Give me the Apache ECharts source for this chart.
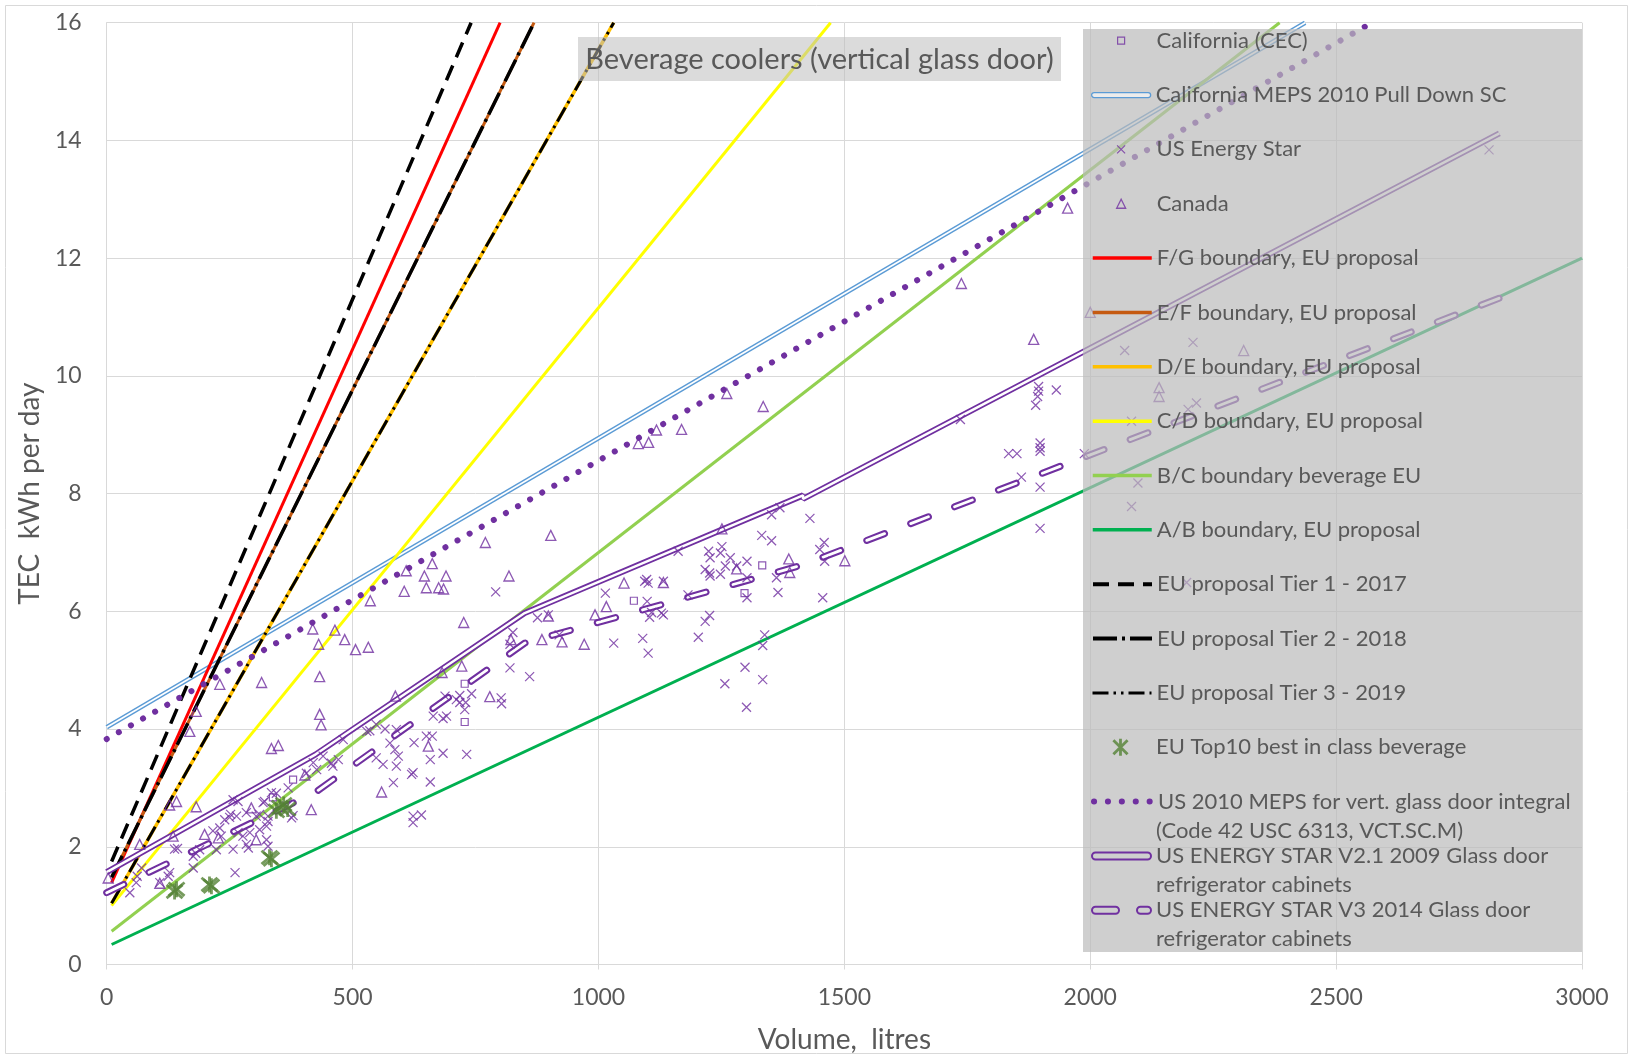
<!DOCTYPE html>
<html><head><meta charset="utf-8">
<script src="https://cdn.jsdelivr.net/npm/echarts@6/dist/echarts.min.js"></script>
<style>html,body{margin:0;padding:0;background:#fff}#c{width:1633px;height:1059px}</style>
</head><body><div id="c"></div>
<script>
// ---------- axes ----------
const X_AXIS = { min: 0, max: 3000, interval: 500, name: 'Volume,  litres' };
const Y_AXIS = { min: 0, max: 16, interval: 2, name: 'TEC  kWh per day' };
const TITLE = 'Beverage coolers (vertical glass door)';

// ---------- series names ----------
const N_CEC = 'California (CEC)';
const N_CAMEPS = 'California MEPS 2010 Pull Down SC';
const N_ES = 'US Energy Star';
const N_CAN = 'Canada';
const N_FG = 'F/G boundary, EU proposal';
const N_EF = 'E/F boundary, EU proposal';
const N_DE = 'D/E boundary, EU proposal';
const N_CD = 'C/D boundary, EU proposal';
const N_BC = 'B/C boundary beverage EU';
const N_AB = 'A/B boundary, EU proposal';
const N_T1 = 'EU proposal Tier 1 - 2017';
const N_T2 = 'EU proposal Tier 2 - 2018';
const N_T3 = 'EU proposal Tier 3 - 2019';
const N_TOP10 = 'EU Top10 best in class beverage';
const N_USMEPS = 'US 2010 MEPS for vert. glass door integral\n(Code 42 USC 6313, VCT.SC.M)';
const N_V21 = 'US ENERGY STAR V2.1 2009 Glass door\nrefrigerator cabinets';
const N_V3 = 'US ENERGY STAR V3 2014 Glass door\nrefrigerator cabinets';

// ---------- scatter data [litres, kWh/day] ----------
const californiaCEC = [[338,2.84],[379,3.14],[728,4.12],[728,4.77],[1072,6.18],[1297,6.31],[1333,6.78]];

const usEnergyStar = [
[47,1.22],[60,1.39],[62,1.50],[71,1.64],[108,1.39],[125,1.50],[128,1.56],[138,1.96],[144,1.97],[176,1.64],
[176,1.84],[181,1.89],[189,1.95],[216,2.27],[223,1.95],[230,2.32],[233,2.18],[240,2.46],[250,2.50],[252,2.55],
[257,1.96],[257,2.80],[261,1.56],[264,2.52],[267,2.24],[267,2.77],[277,2.18],[284,2.04],[284,2.58],[288,1.98],
[291,2.24],[304,2.52],[311,2.29],[311,2.55],[318,2.75],[321,2.77],[325,2.35],[325,2.12],[328,2.52],[328,2.01],
[328,2.43],[335,2.92],[345,2.91],[366,2.69],[369,3.00],[376,2.49],[379,2.53],[406,3.25],[420,3.43],[427,3.31],
[440,3.54],[457,3.42],[460,3.37],[471,3.48],[481,3.82],[529,3.96],[535,3.97],[548,4.08],[548,3.51],[562,3.40],
[566,4.00],[576,3.76],[583,3.09],[586,3.65],[589,3.99],[589,3.37],[593,3.54],[620,3.23],[623,3.26],[623,2.52],
[623,2.41],[625,3.77],[640,2.54],[650,3.88],[658,3.48],[658,3.10],[662,3.88],[664,4.22],[684,3.59],[684,4.18],
[688,4.56],[691,4.22],[711,4.50],[718,4.45],[718,4.57],[728,4.33],[730,4.45],[732,3.57],[742,4.60],[791,6.33],
[802,4.53],[803,4.43],[820,5.44],[820,5.04],[826,5.64],[860,4.89],[876,5.89],[898,5.94],[920,5.60],[1014,6.31],
[1031,5.46],[1090,5.54],[1094,6.51],[1098,6.54],[1099,6.17],[1101,6.48],[1101,5.29],[1104,5.90],[1108,5.98],[1128,5.97],
[1132,6.51],[1132,5.94],[1162,7.02],[1182,6.28],[1203,5.56],[1217,5.83],[1217,6.71],[1224,7.02],[1226,5.93],[1226,6.65],
[1227,6.91],[1227,6.60],[1248,6.99],[1248,6.63],[1251,7.10],[1257,4.77],[1258,6.77],[1268,6.91],[1281,6.77],[1298,5.05],
[1301,4.37],[1302,6.85],[1302,6.57],[1302,6.23],[1332,7.29],[1334,5.42],[1334,4.84],[1338,5.60],[1352,7.20],[1352,7.64],
[1362,6.57],[1365,6.32],[1369,7.76],[1430,7.58],[1450,7.05],[1456,6.23],[1459,7.17],[1460,6.85],[1736,9.26],[1834,8.68],
[1851,8.68],[1860,8.28],[1895,9.82],[1895,9.74],[1893,9.65],[1889,9.50],[1898,8.86],[1898,8.78],[1898,8.72],[1898,8.11],
[1898,7.41],[1931,9.76],[1988,8.68],[2070,10.43],[2084,9.23],[2084,7.78],[2097,8.18],[2196,6.49],[2199,9.43],[2209,10.57],
[2216,9.54],[2811,13.84]
];

const canada = [
[3,1.47],[67,2.04],[108,1.38],[128,2.71],[142,2.77],[135,2.18],[169,3.96],[182,4.30],[182,2.68],[199,2.21],
[227,2.15],[230,4.76],[294,2.66],[304,2.12],[315,4.79],[335,3.67],[349,3.72],[403,3.22],[416,2.63],[419,5.70],
[431,5.44],[433,4.25],[433,4.89],[436,4.07],[464,5.68],[484,5.52],[506,5.35],[532,5.39],[536,6.18],[559,2.93],
[587,4.56],[605,6.34],[609,6.69],[646,6.60],[650,6.40],[654,3.71],[662,6.81],[675,6.40],[685,6.38],[690,6.60],
[682,4.96],[722,5.07],[726,5.81],[770,7.17],[779,4.55],[818,6.60],[822,5.52],[885,5.52],[898,5.92],[903,7.29],
[926,5.48],[971,5.44],[993,5.94],[1016,6.08],[1052,6.48],[1081,8.85],[1102,8.87],[1118,9.08],[1132,6.49],[1169,9.09],
[1251,7.40],[1261,9.70],[1281,6.72],[1335,9.48],[1387,6.89],[1389,6.66],[1501,6.86],[1738,11.57],[1885,10.62],[1954,12.85],
[2000,11.08],[2140,9.80],[2140,9.65],[2312,10.43]
];

const euTop10 = [[138,1.24],[142,1.28],[209,1.36],[213,1.33],[331,1.82],[335,1.79],[345,2.61],[352,2.67],[360,2.72],[368,2.64]];

// ---------- line data [litres, kWh/day] ----------
const caMeps2010 = [[0,4.03],[2437,16.0]];
const fgBoundary = [[10,1.39],[800,16.0]];
const efBoundary = [[10,1.48],[869,16.0]];
const deBoundary = [[10,1.04],[1031,16.0]];
const cdBoundary = [[10,1.00],[1472,16.0]];
const bcBoundary = [[10,0.565],[2385,16.0]];
const abBoundary = [[10,0.34],[3000,12.0]];
const tier1 = [[10,1.75],[741,16.0]];
const tier2 = [[10,1.48],[869,16.0]];
const tier3 = [[10,1.04],[1031,16.0]];
const usMeps2010 = [[0,3.83],[2573,16.0]];
const energyStarV21 = [[0,1.57],[425,3.57],[850,5.97],[1416,7.97],[1416,7.91],[2832,14.12]];
const energyStarV3 = [[0,1.22],[425,2.93],[850,5.46],[1416,6.79],[2832,11.32]];

// ---------- styling ----------
const FONT = 'Lato';
const TXT = '#595959';
const PURPLE = '#7030A0';
const BLUE = '#5B9BD5';
const GRID_C = '#d9d9d9';
const X_PATH = 'path://M0,0L10,10M10,0L0,10';
const STAR_PATH = 'path://M0,0L10,10M10,0L0,10M5,-1L5,11';
const CAPSULE7 = 'path://M3.5,0L55.5,0A3.5,3.5 0 0 1 55.5,7L3.5,7A3.5,3.5 0 0 1 3.5,0Z';
const CAPSULE5 = 'path://M2.5,0L56.5,0A2.5,2.5 0 0 1 56.5,5L2.5,5A2.5,2.5 0 0 1 2.5,0Z';
const DASHCAP7 = 'path://M3.5,0L23.5,0A3.5,3.5 0 0 1 23.5,7L3.5,7A3.5,3.5 0 0 1 3.5,0Z M48.5,0L55.5,0A3.5,3.5 0 0 1 55.5,7L48.5,7A3.5,3.5 0 0 1 48.5,0Z';

function line(name, data, ls, z) {
  return { type: 'line', name: name, data: data, symbol: 'none', showSymbol: false,
    silent: true, animation: false, clip: true, z: z || 2,
    lineStyle: Object.assign({ width: 3, cap: 'butt' }, ls) };
}
function scatter(name, data, symbol, size, color, bw) {
  return { type: 'scatter', name: name, data: data, symbol: symbol, symbolSize: size,
    silent: true, animation: false,
    itemStyle: { color: 'transparent', borderColor: color, borderWidth: bw } };
}

const series = [
  scatter(N_CEC, californiaCEC, 'rect', 7, PURPLE, 1.2),
  line(N_CAMEPS, caMeps2010, { color: BLUE, width: 4.5 }),
  line('caInner', caMeps2010, { color: '#ffffff', width: 1.7 }),
  scatter(N_ES, usEnergyStar, X_PATH, 9, PURPLE, 1.25),
  scatter(N_CAN, canada, 'triangle', 10, PURPLE, 1.35),
  line(N_FG, fgBoundary, { color: '#FF0000', width: 3 }),
  line(N_EF, efBoundary, { color: '#C55A11', width: 3 }),
  line(N_DE, deBoundary, { color: '#FFC000', width: 3.5 }),
  line(N_CD, cdBoundary, { color: '#FFFF00', width: 3 }),
  line(N_BC, bcBoundary, { color: '#92D050', width: 3 }),
  line(N_AB, abBoundary, { color: '#00B050', width: 3 }),
  line(N_T1, tier1, { color: '#000000', width: 3.5, type: [16, 9] }),
  line(N_T2, tier2, { color: '#000000', width: 3.5, type: [24, 5, 3, 5] }),
  line(N_T3, tier3, { color: '#000000', width: 3, type: [16, 5, 2.5, 5, 2.5, 5] }),
  scatter(N_TOP10, euTop10, STAR_PATH, 16, '#548235', 2.8),
  line(N_USMEPS, usMeps2010, { color: PURPLE, width: 6, type: [0.1, 13.8], cap: 'round' }),
  line(N_V21, energyStarV21, { color: PURPLE, width: 6 }),
  line('v21Inner', energyStarV21, { color: '#ffffff', width: 2.4 }),
  line(N_V3, energyStarV3, { color: PURPLE, width: 7, type: [19, 28], cap: 'round' }),
  line('v3Inner', energyStarV3, { color: '#ffffff', width: 2.8, type: [19, 28], cap: 'round' })
];

// ---------- legend (one component per row) ----------
const HIDE = { opacity: 0 };
const legendRows = [
  { name: N_CEC, ih: 7, marker: true, itemStyle: { borderWidth: 1.2 } },
  { name: N_CAMEPS, ih: 5, icon: CAPSULE5, keep: false, itemStyle: { color: 'rgba(255,255,255,0.6)', borderColor: BLUE, borderWidth: 1.3 } },
  { name: N_ES, ih: 8, marker: true, itemStyle: { borderWidth: 1.2 } },
  { name: N_CAN, ih: 9, marker: true, itemStyle: { borderWidth: 1.3 } },
  { name: N_FG, ih: 14, lw: 3.5, itemStyle: HIDE },
  { name: N_EF, ih: 14, lw: 3.5, itemStyle: HIDE },
  { name: N_DE, ih: 14, lw: 3.5, itemStyle: HIDE },
  { name: N_CD, ih: 14, lw: 3.5, itemStyle: HIDE },
  { name: N_BC, ih: 14, lw: 3.5, itemStyle: HIDE },
  { name: N_AB, ih: 14, lw: 3.5, itemStyle: HIDE },
  { name: N_T1, ih: 14, lw: 4, itemStyle: HIDE },
  { name: N_T2, ih: 14, lw: 4, itemStyle: HIDE },
  { name: N_T3, ih: 14, lw: 3, itemStyle: HIDE },
  { name: N_TOP10, ih: 17, marker: true, itemStyle: { borderWidth: 2.8 } },
  { name: N_USMEPS, ih: 14, lw: 6, itemStyle: HIDE },
  { name: N_V21, ih: 7, icon: CAPSULE7, keep: false, itemStyle: { color: 'rgba(255,255,255,0)', borderColor: PURPLE, borderWidth: 2 } },
  { name: N_V3, ih: 7, icon: DASHCAP7, keep: false, itemStyle: { color: 'rgba(255,255,255,0)', borderColor: PURPLE, borderWidth: 2 } }
];
const LEG_LEFT = 1091, ICON_W = 59, TEXT_LEFT = 1156, LEG_C0 = 40.7, LEG_STEP = 54.35, LINE_H = 28, LEG_FS = 22;
const legends = legendRows.map(function (r, i) {
  const c = LEG_C0 + LEG_STEP * i;
  const d = { name: r.name };
  if (r.icon) d.icon = r.icon;
  const L = {
    show: true, data: [d], left: LEG_LEFT, top: c - LINE_H / 2, orient: 'vertical',
    padding: 0, itemGap: 0, itemWidth: ICON_W, itemHeight: r.ih,
    symbolKeepAspect: r.keep !== false, selectedMode: false, z: 5,
    formatter: function (n) { return n.split('\n')[0]; },
    textStyle: { fontFamily: FONT, fontSize: LEG_FS, color: TXT, lineHeight: LINE_H },
    itemStyle: r.itemStyle || {}
  };
  if (r.marker) {
    const left = LEG_LEFT + ICON_W / 2 - r.ih / 2;
    const pad = TEXT_LEFT - (left + r.ih + 5);
    L.left = left;
    L.itemWidth = r.ih;
    L.formatter = function (n) { return '{g|}' + n.split('\n')[0]; };
    L.textStyle.rich = { g: { width: pad, height: 1 } };
  }
  if (r.lw) L.lineStyle = { width: r.lw };
  return L;
});
const secondLines = [];
legendRows.forEach(function (r, i) {
  const parts = r.name.split('\n');
  if (parts.length > 1) {
    secondLines.push({ type: 'text', x: TEXT_LEFT, y: LEG_C0 + LEG_STEP * i + 29, z: 6, silent: true,
      style: { text: parts[1], fill: TXT, font: LEG_FS + 'px ' + FONT, align: 'left', verticalAlign: 'middle',
        textAlign: 'left', textVerticalAlign: 'middle' } });
  }
});

const option = {
  backgroundColor: '#ffffff',
  animation: false,
  grid: { left: 106.7, right: 51, top: 22.7, bottom: 94.5, containLabel: false, outerBoundsMode: 'none' },
  xAxis: {
    type: 'value', min: X_AXIS.min, max: X_AXIS.max, interval: X_AXIS.interval,
    name: X_AXIS.name, nameLocation: 'middle', nameGap: 61,
    nameTextStyle: { fontFamily: FONT, fontSize: 28, color: TXT },
    axisLine: { show: true, lineStyle: { color: GRID_C, width: 1 } },
    axisTick: { show: true, length: 5, lineStyle: { color: GRID_C } },
    axisLabel: { fontFamily: FONT, fontSize: 23, color: TXT, margin: 22, formatter: function (v) { return String(v); } },
    splitLine: { show: true, lineStyle: { color: GRID_C, width: 1 } }
  },
  yAxis: {
    type: 'value', min: Y_AXIS.min, max: Y_AXIS.max, interval: Y_AXIS.interval,
    name: Y_AXIS.name, nameLocation: 'middle', nameGap: 61, nameRotate: 90,
    nameTextStyle: { fontFamily: FONT, fontSize: 28, color: TXT },
    axisLine: { show: true, lineStyle: { color: GRID_C, width: 1 } },
    axisTick: { show: false },
    axisLabel: { fontFamily: FONT, fontSize: 23, color: TXT, margin: 25, formatter: function (v) { return String(v); } },
    splitLine: { show: true, lineStyle: { color: GRID_C, width: 1 } }
  },
  legend: legends,
  series: series,
  graphic: [
    { type: 'rect', silent: true, z: 0, shape: { x: 5.5, y: 5.5, width: 1622, height: 1048 },
      style: { fill: 'none', stroke: '#d9d9d9', lineWidth: 1 } },
    { type: 'rect', silent: true, z: 3, shape: { x: 1083, y: 29, width: 499, height: 923 },
      style: { fill: 'rgba(186,186,186,0.7)' } },
    { type: 'rect', silent: true, z: 3, shape: { x: 578, y: 37, width: 483, height: 44 },
      style: { fill: 'rgba(190,190,190,0.55)' } },
    { type: 'text', silent: true, z: 4, x: 819.5, y: 60,
      style: { text: TITLE, fill: TXT, font: '29px ' + FONT, align: 'center', verticalAlign: 'middle',
        textAlign: 'center', textVerticalAlign: 'middle' } }
  ].concat(secondLines)
};

const chart = echarts.init(document.getElementById('c'), null, { renderer: 'canvas' });
chart.setOption(option);
</script>
</body></html>
